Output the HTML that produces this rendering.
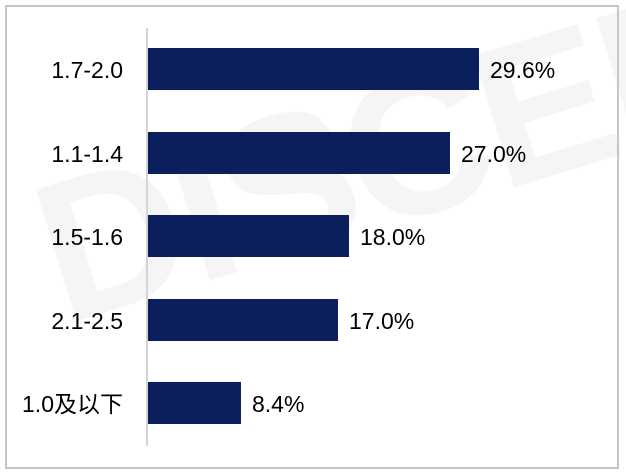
<!DOCTYPE html>
<html><head><meta charset="utf-8"><style>
body{margin:0;width:626px;height:476px;background:#fff;position:relative;overflow:hidden;font-family:"Liberation Sans","Noto Sans CJK SC",sans-serif;}
.frame{position:absolute;left:5px;top:5px;width:610px;height:460px;border:2px solid #c6c6c6;}
.wm{position:absolute;left:10px;top:150px;font-size:200px;font-weight:bold;color:#f5f5f5;transform:rotate(-17deg);transform-origin:left top;letter-spacing:-5px;white-space:nowrap;}
.axis{position:absolute;left:146px;top:28px;width:2px;height:418px;background:#d4d4d4;}
.bar{position:absolute;left:148px;height:42px;background:#0a1f5c;}
.lab{position:absolute;right:503px;font-size:23px;color:#000;line-height:44px;white-space:nowrap;}
.val{position:absolute;font-size:23px;color:#000;line-height:44px;}
</style></head><body>
<div class="wm">DISCEN</div>
<div class="frame"></div>
<div class="axis"></div>
<div class="lab" style="top:48px">1.7-2.0</div><div class="bar" style="top:48px;width:331px"></div><div class="val" style="top:48px;left:490px">29.6%</div>
<div class="lab" style="top:132px">1.1-1.4</div><div class="bar" style="top:132px;width:302px"></div><div class="val" style="top:132px;left:461px">27.0%</div>
<div class="lab" style="top:215px">1.5-1.6</div><div class="bar" style="top:215px;width:201px"></div><div class="val" style="top:215px;left:360px">18.0%</div>
<div class="lab" style="top:299px">2.1-2.5</div><div class="bar" style="top:299px;width:190px"></div><div class="val" style="top:299px;left:349px">17.0%</div>
<div class="lab" style="top:382px">1.0及以下</div><div class="bar" style="top:382px;width:93px"></div><div class="val" style="top:382px;left:252px">8.4%</div>
</body></html>
